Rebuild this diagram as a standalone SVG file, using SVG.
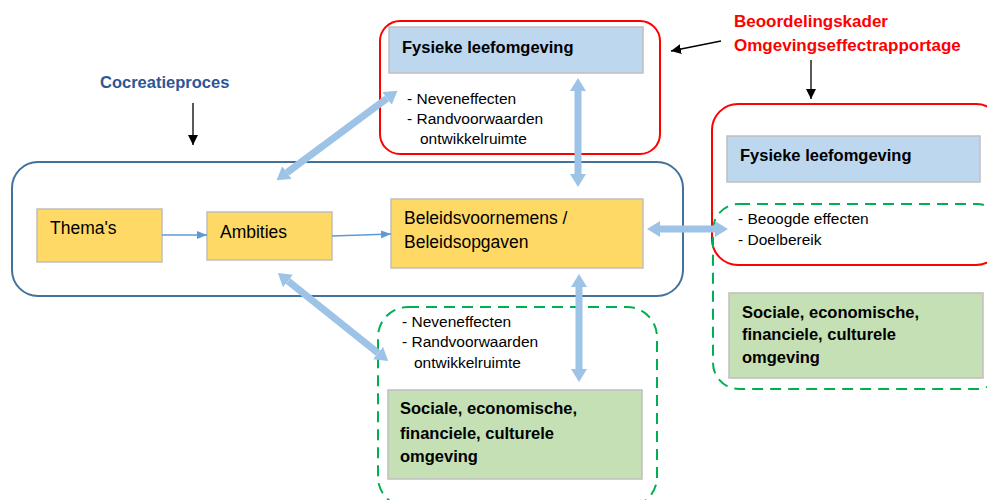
<svg xmlns="http://www.w3.org/2000/svg" width="987" height="500" viewBox="0 0 987 500">
<defs>
<style>
text{font-family:"Liberation Sans",Arial,sans-serif;fill:#000}
.b{font-weight:bold}
.red{fill:none;stroke:#FF0000;stroke-width:2}
.gd{fill:none;stroke:#00B050;stroke-width:2;stroke-dasharray:11,7}
.blu{fill:#BDD7EE;stroke:#BFBFBF;stroke-width:1.5}
.yel{fill:#FFD966;stroke:#BFBFBF;stroke-width:1.5}
.grn{fill:#C5E0B4;stroke:#BFBFBF;stroke-width:1.5}
.big{stroke:#9DC3E6;stroke-width:7;fill:none}
.thin{stroke:#5B9BD5;stroke-width:1.3;fill:none}
.blk{stroke:#000;stroke-width:1.3;fill:none}
.sm{font-size:15.5px}
.md{font-size:17.5px}
</style>
<marker id="hb" markerUnits="userSpaceOnUse" markerWidth="14" markerHeight="16" refX="0" refY="8" orient="auto-start-reverse" viewBox="0 0 14 16">
<path d="M0,0 L13,8 L0,16 z" fill="#9DC3E6"/>
</marker>
<marker id="ht" markerUnits="userSpaceOnUse" markerWidth="10" markerHeight="8" refX="10" refY="4" orient="auto" viewBox="0 0 10 8">
<path d="M0,0 L10,4 L0,8 z" fill="#5B9BD5"/>
</marker>
<marker id="hk" markerUnits="userSpaceOnUse" markerWidth="10" markerHeight="10" refX="10" refY="5" orient="auto" viewBox="0 0 10 10">
<path d="M0,0 L10,5 L0,10 z" fill="#000"/>
</marker>
</defs>

<g id="labels">
<text x="100" y="88" class="b" font-size="16.5" style="fill:#2F5597">Cocreatieproces</text>
<text x="734" y="27" class="b" font-size="17" style="fill:#FF0000">Beoordelingskader</text>
<text x="734" y="51" class="b" font-size="17" style="fill:#FF0000">Omgevingseffectrapportage</text>
</g>

<g id="cocreatie-container">
<rect x="12" y="162" width="671" height="134" rx="26" fill="none" stroke="#41719C" stroke-width="2"/>
</g>

<g id="top-red">
<rect class="red" x="380" y="21" width="280" height="133" rx="20"/>
<g id="fysiek-top">
<rect class="blu" x="389" y="27" width="254" height="46"/>
<text x="402" y="53" class="b" font-size="16.5">Fysieke leefomgeving</text>
</g>
<text x="407" y="104" class="sm">- Neveneffecten</text>
<text x="407" y="124" class="sm">- Randvoorwaarden</text>
<text x="420" y="144" class="sm">ontwikkelruimte</text>
</g>

<g id="right-red">
<rect class="red" x="712" y="104" width="290" height="161" rx="26"/>
<g id="fysiek-right">
<rect class="blu" x="727" y="136" width="253" height="46"/>
<text x="740" y="161" class="b" font-size="16.5">Fysieke leefomgeving</text>
</g>
</g>

<g id="right-green">
<rect class="gd" x="713" y="204" width="290" height="185" rx="26"/>
<text x="738" y="224" class="sm">- Beoogde effecten</text>
<text x="738" y="245" class="sm">- Doelbereik</text>
<g id="sociaal-right">
<rect class="grn" x="729" y="293" width="254" height="85"/>
<text x="742" y="318" class="b" font-size="16.5">Sociale, economische,</text>
<text x="742" y="340" class="b" font-size="16.5">financiele, culturele</text>
<text x="742" y="363" class="b" font-size="16.5">omgeving</text>
</g>
</g>

<g id="bottom-green">
<rect class="gd" x="378" y="307" width="279" height="200" rx="30"/>
<text x="402" y="327" class="sm">- Neveneffecten</text>
<text x="402" y="347" class="sm">- Randvoorwaarden</text>
<text x="414" y="368" class="sm">ontwikkelruimte</text>
<g id="sociaal-bottom">
<rect class="grn" x="388" y="390" width="254" height="89"/>
<text x="400" y="414" class="b" font-size="16.5">Sociale, economische,</text>
<text x="400" y="439" class="b" font-size="16.5">financiele, culturele</text>
<text x="400" y="462" class="b" font-size="16.5">omgeving</text>
</g>
</g>

<g id="themas">
<rect class="yel" x="37" y="209" width="125" height="53"/>
<text x="50" y="234" class="md">Thema's</text>
</g>
<g id="ambities">
<rect class="yel" x="207" y="212" width="125" height="48"/>
<text x="220" y="238" class="md">Ambities</text>
</g>
<g id="beleid">
<rect class="yel" x="391" y="199" width="252" height="69"/>
<text x="404" y="224" class="md">Beleidsvoornemens /</text>
<text x="404" y="248" class="md">Beleidsopgaven</text>
</g>

<g id="connectors">
<line class="blk" x1="193" y1="103" x2="193" y2="145" marker-end="url(#hk)"/>
<line class="blk" x1="721" y1="41" x2="671" y2="51" marker-end="url(#hk)"/>
<line class="blk" x1="811" y1="60" x2="811" y2="99" marker-end="url(#hk)"/>
<line class="thin" x1="162" y1="235" x2="207" y2="235" marker-end="url(#ht)"/>
<line class="thin" x1="332" y1="236" x2="391" y2="234" marker-end="url(#ht)"/>
<line class="big" x1="287" y1="172.6" x2="387" y2="98.4" marker-start="url(#hb)" marker-end="url(#hb)"/>
<line class="big" x1="578" y1="91" x2="578" y2="174" marker-start="url(#hb)" marker-end="url(#hb)"/>
<line class="big" x1="579" y1="287" x2="579" y2="369" marker-start="url(#hb)" marker-end="url(#hb)"/>
<line class="big" x1="660" y1="229" x2="715" y2="229" marker-start="url(#hb)" marker-end="url(#hb)"/>
<line class="big" x1="288" y1="281" x2="378" y2="353" marker-start="url(#hb)" marker-end="url(#hb)"/>
</g>
</svg>
